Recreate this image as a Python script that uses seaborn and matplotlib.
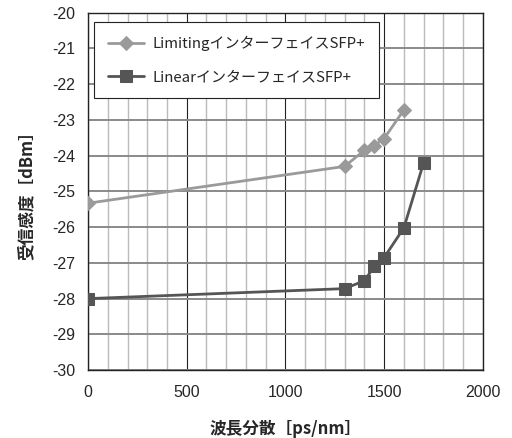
import numpy as np
import pandas as pd
import matplotlib
matplotlib.use('Agg')
import matplotlib.pyplot as plt
import seaborn as sns

# data
lim_x = [0, 1300, 1400, 1450, 1500, 1600]
lim_y = [-25.33, -24.3, -23.85, -23.72, -23.52, -22.72]
lin_x = [0, 1300, 1400, 1450, 1500, 1600, 1700]
lin_y = [-28.0, -27.72, -27.5, -27.1, -26.85, -26.02, -24.2]
x_ticks = [0, 500, 1000, 1500, 2000]
y_ticks = list(range(-30, -19))
lim_name = 'LimitingインターフェイスSFP+'
lin_name = 'LinearインターフェイスSFP+'

sns.set_style('white')
plt.rcParams['font.family'] = ['Noto Sans CJK JP', 'DejaVu Sans']
plt.rcParams['axes.unicode_minus'] = False

fig = plt.figure(figsize=(5.12, 4.38), dpi=100)
ax = fig.add_axes([0.172, 0.155, 0.771, 0.816])

# grid
for gx in range(0, 2001, 100):
    if gx % 500 == 0:
        ax.axvline(gx, color='#222222', lw=0.8, zorder=0)
    else:
        ax.axvline(gx, color='#bbbbbb', lw=1.0, zorder=0)
for gy in y_ticks:
    ax.axhline(gy, color='#8a8a8a', lw=1.4, zorder=0)

sns.lineplot(x=lim_x, y=lim_y, ax=ax, color='#9a9a9a', lw=2, marker='D',
             markersize=7, markeredgecolor='#9a9a9a', label=lim_name, zorder=3)
sns.lineplot(x=lin_x, y=lin_y, ax=ax, color='#555555', lw=2, marker='s',
             markersize=9, markeredgecolor='#555555', label=lin_name, zorder=3)

ax.set_xlim(0, 2000)
ax.set_ylim(-30, -20)
tick_font = ['Liberation Sans', 'DejaVu Sans']
ax.set_xticks(x_ticks, labels=[str(v) for v in x_ticks], fontfamily=tick_font, fontsize=11.5)
ax.set_yticks(y_ticks, labels=[str(v) for v in y_ticks], fontfamily=tick_font, fontsize=11.5)
ax.tick_params(axis='x', length=0, pad=11)
ax.tick_params(axis='y', length=0, pad=9)
for s in ax.spines.values():
    s.set_color('#222222')
    s.set_linewidth(1.0)

ax.set_xlabel('波長分散［ps/nm］', fontsize=12, fontweight='bold', labelpad=14)
ax.set_ylabel('受信感度［dBm］', fontsize=12, fontweight='bold', labelpad=12)

leg = ax.legend(loc='upper left', bbox_to_anchor=(0.0, 0.99), fontsize=10.8,
                frameon=True, fancybox=False, edgecolor='#222222',
                handlelength=2.4, handletextpad=0.6, labelspacing=1.3,
                borderpad=0.9, borderaxespad=0.4)
leg.get_frame().set_linewidth(0.8)
leg.get_frame().set_alpha(1)

fig.savefig('out.png', dpi=100)
